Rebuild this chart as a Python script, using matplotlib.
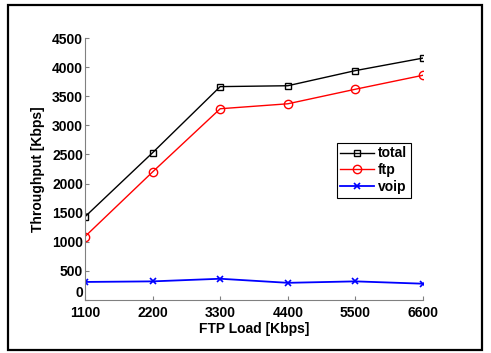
import matplotlib
matplotlib.use('Agg')
import matplotlib.pyplot as plt
from matplotlib.patches import Rectangle

# data
load = [1100, 2200, 3300, 4400, 5500, 6600]
total = [1430, 2530, 3665, 3680, 3940, 4155]
ftp = [1090, 2200, 3285, 3370, 3620, 3860]
voip = [310, 320, 365, 295, 320, 280]

plt.rcParams['font.family'] = ['Liberation Sans', 'DejaVu Sans']
plt.rcParams['font.weight'] = 'bold'
plt.rcParams['font.size'] = 10

fig = plt.figure(figsize=(4.91, 3.53), dpi=100)
ax = fig.add_axes([85/491, 1 - 300/353, (423 - 85)/491, (300 - 38)/353])

ax.plot(load, total, color='black', marker='s', ms=5, mfc='none', mew=1.0,
        lw=1.0, label='total')
ax.plot(load, ftp, color='red', marker='o', ms=6, mfc='none', mew=1.0,
        lw=1.0, label='ftp')
ax.plot(load, voip, color='blue', marker='x', ms=4.5, mew=1.2,
        lw=1.3, label='voip')

ax.set_xlim(1100, 6600)
ax.set_ylim(0, 4500)
ax.set_xticks(load)
ax.set_yticks(range(0, 4501, 500))
ax.tick_params(direction='in', length=3, color='grey', pad=1.5)
ax.tick_params(axis='x', pad=4)
ax.get_yticklabels()[0].set_verticalalignment('bottom')
for s in ['top', 'right']:
    ax.spines[s].set_visible(False)
for s in ['left', 'bottom']:
    ax.spines[s].set_color('grey')
ax.set_xlabel('FTP Load [Kbps]', fontsize=10, fontweight='bold', labelpad=2)
ax.set_ylabel('Throughput [Kbps]', fontsize=10, fontweight='bold', labelpad=5)

leg = ax.legend(loc='upper left', bbox_to_anchor=((337 - 85)/338, (300 - 143)/262),
                fancybox=False, edgecolor='black', framealpha=1,
                handlelength=2.4, borderpad=0.25, labelspacing=0.2,
                handletextpad=0.3, borderaxespad=0)
leg.get_frame().set_linewidth(0.8)

# outer frame
fig.patches.append(Rectangle((7.5/491, 3.5/353), 474/491, 345/353,
                             transform=fig.transFigure, fill=False,
                             edgecolor='black', lw=1.6))

fig.savefig('out.png', dpi=100)
